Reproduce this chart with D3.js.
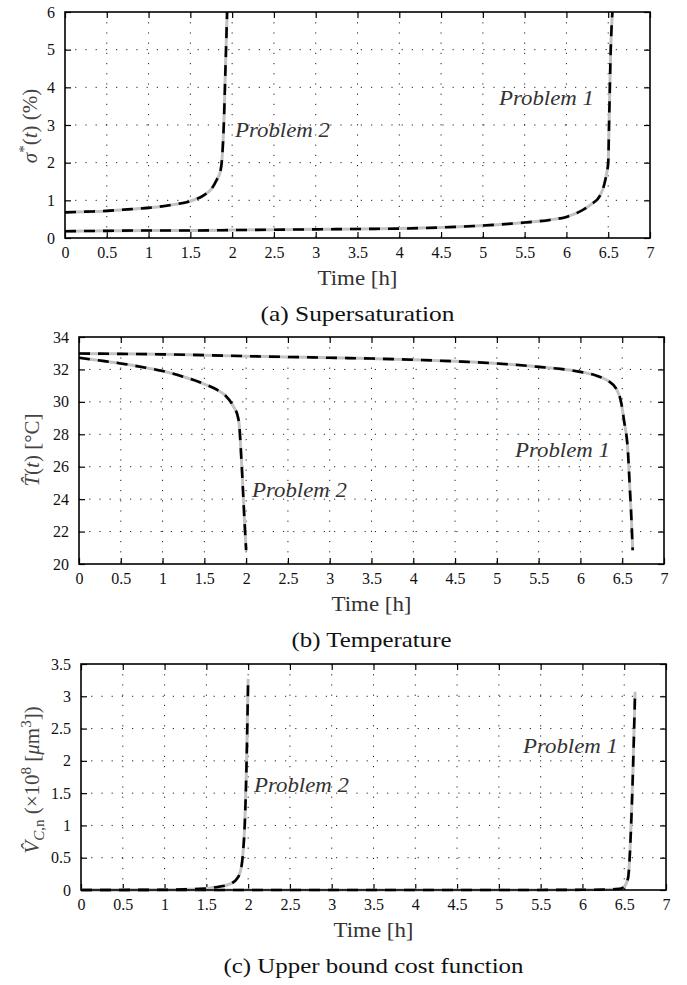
<!DOCTYPE html>
<html>
<head>
<meta charset="utf-8">
<script src="https://cdnjs.cloudflare.com/ajax/libs/d3/7.8.5/d3.min.js"></script>
<style>
  body { margin: 0; background: #fff; }
</style>
</head>
<body>
<div id="chart"></div>
<script>
// ---- data ----
const xTicks = [0, 0.5, 1, 1.5, 2, 2.5, 3, 3.5, 4, 4.5, 5, 5.5, 6, 6.5, 7];

// (a) supersaturation
const sigP1T = [0, 0.5, 1, 1.5, 2, 2.5, 3, 3.5, 4, 4.5, 5, 5.5, 5.8, 6, 6.2, 6.3, 6.4, 6.45, 6.48, 6.5, 6.51, 6.53, 6.55];
const sigP1V = [0.18, 0.19, 0.2, 0.2, 0.21, 0.22, 0.23, 0.24, 0.25, 0.28, 0.33, 0.41, 0.48, 0.56, 0.75, 0.9, 1.12, 1.4, 1.7, 2.0, 3.0, 5.0, 6.0];
const sigP2T = [0, 0.25, 0.5, 0.75, 1, 1.25, 1.5, 1.65, 1.75, 1.815, 1.86, 1.875, 1.9, 1.92, 1.94];
const sigP2V = [0.68, 0.7, 0.72, 0.76, 0.8, 0.87, 0.98, 1.12, 1.3, 1.54, 1.78, 2.0, 3.0, 4.5, 6.0];
const sigTicks = [0, 1, 2, 3, 4, 5, 6];

// (b) temperature
const tmpP1T = [0, 0.5, 1, 1.5, 2, 2.5, 3, 3.5, 4, 4.5, 5, 5.5, 6, 6.2, 6.33, 6.43, 6.49, 6.52, 6.57, 6.59, 6.61, 6.625];
const tmpP1V = [32.98, 32.96, 32.93, 32.88, 32.82, 32.77, 32.72, 32.67, 32.6, 32.5, 32.37, 32.16, 31.85, 31.6, 31.3, 30.8, 29.9, 28.9, 26.8, 24.8, 22.8, 20.85];
const tmpP2T = [0, 0.25, 0.5, 0.75, 1, 1.25, 1.5, 1.65, 1.75, 1.85, 1.9, 1.92, 1.935, 1.95, 1.98, 2.0];
const tmpP2V = [32.72, 32.55, 32.37, 32.15, 31.9, 31.55, 31.1, 30.75, 30.4, 29.7, 29.1, 28.45, 27.2, 25.8, 22.7, 20.85];
const tmpTicks = [20, 22, 24, 26, 28, 30, 32, 34];

// (c) upper bound cost function
const vcP1T = [0, 1, 2, 3, 4, 5, 5.5, 6, 6.3, 6.45, 6.5, 6.53, 6.55, 6.57, 6.6, 6.63];
const vcP1V = [0, 0, 0, 0, 0, 0, 0.001, 0.003, 0.008, 0.02, 0.05, 0.12, 0.22, 0.62, 1.65, 3.07];
const vcP2T = [0, 0.5, 1, 1.25, 1.5, 1.65, 1.78, 1.88, 1.92, 1.94, 1.96, 1.98, 2.0];
const vcP2V = [0, 0.001, 0.004, 0.01, 0.025, 0.05, 0.09, 0.2, 0.36, 0.6, 1.03, 1.9, 3.27];
const vcTicks = [0, 0.5, 1, 1.5, 2, 2.5, 3, 3.5];

const SERIF = "'Liberation Serif', 'DejaVu Serif', serif";

const svg = d3.select('#chart').append('svg')
  .attr('width', 687)
  .attr('height', 985)
  .attr('font-family', SERIF);

function zip(ts, vs) { return ts.map((t, i) => ({ t: t, v: vs[i] })); }

function drawPanel(p) {
  const x = d3.scaleLinear().domain([0, 7]).range([p.left, p.right]);
  const y = d3.scaleLinear().domain(p.yDomain).range([p.bottom, p.top]);
  const g = svg.append('g');

  // dotted grid
  g.selectAll('.gx').data(xTicks.slice(1, -1)).enter().append('line')
    .attr('x1', d => x(d)).attr('x2', d => x(d))
    .attr('y1', p.top).attr('y2', p.bottom)
    .attr('stroke', '#222').attr('stroke-width', 1).attr('stroke-dasharray', '1.2,9');
  g.selectAll('.gy').data(p.yTicks.slice(1, -1)).enter().append('line')
    .attr('x1', p.left).attr('x2', p.right)
    .attr('y1', d => y(d)).attr('y2', d => y(d))
    .attr('stroke', '#222').attr('stroke-width', 1).attr('stroke-dasharray', '1.2,9');

  // axes with inward ticks
  const fmt = d => String(d);
  g.append('g').attr('transform', `translate(0,${p.bottom})`)
    .call(d3.axisBottom(x).tickValues(xTicks).tickSizeInner(-6).tickSizeOuter(0).tickPadding(9).tickFormat(fmt));
  g.append('g').attr('transform', `translate(0,${p.top})`)
    .call(d3.axisTop(x).tickValues(xTicks).tickSizeInner(-6).tickSizeOuter(0).tickFormat(''));
  g.append('g').attr('transform', `translate(${p.left},0)`)
    .call(d3.axisLeft(y).tickValues(p.yTicks).tickSizeInner(-6).tickSizeOuter(0).tickPadding(10).tickFormat(fmt));
  g.append('g').attr('transform', `translate(${p.right},0)`)
    .call(d3.axisRight(y).tickValues(p.yTicks).tickSizeInner(-6).tickSizeOuter(0).tickFormat(''));
  g.selectAll('.domain').remove();
  g.selectAll('.tick line').attr('stroke', '#000').attr('stroke-width', 1.2);
  g.selectAll('.tick text').attr('font-size', 16).attr('fill', '#111');

  const line = d3.line().x(d => x(d.t)).y(d => y(d.v)).curve(d3.curveMonotoneX);
  p.series.forEach(s => {
    g.append('path').datum(s).attr('d', line)
      .attr('fill', 'none').attr('stroke', '#c3c3c3').attr('stroke-width', 3);
    g.append('path').datum(s).attr('d', line)
      .attr('fill', 'none').attr('stroke', '#000').attr('stroke-width', 2.6)
      .attr('stroke-dasharray', '11,8');
  });

  // frame
  g.append('rect').attr('x', p.left).attr('y', p.top)
    .attr('width', p.right - p.left).attr('height', p.bottom - p.top)
    .attr('fill', 'none').attr('stroke', '#000').attr('stroke-width', 1.6);

  // annotations
  p.notes.forEach(n => {
    g.append('text').attr('x', n.x).attr('y', n.y)
      .attr('font-size', 21).attr('font-style', 'italic').attr('fill', '#333')
      .attr('textLength', 95).attr('lengthAdjust', 'spacingAndGlyphs')
      .text(n.text);
  });

  // x label and caption
  const cx = (p.left + p.right) / 2;
  g.append('text').attr('x', cx).attr('y', p.bottom + 47).attr('text-anchor', 'middle')
    .attr('font-size', 21).attr('fill', '#333')
    .attr('textLength', 80).attr('lengthAdjust', 'spacingAndGlyphs').text('Time [h]');
  g.append('text').attr('x', cx).attr('y', p.bottom + 83).attr('text-anchor', 'middle')
    .attr('font-size', 21).attr('fill', '#111')
    .attr('textLength', p.capLen).attr('lengthAdjust', 'spacingAndGlyphs')
    .text(p.caption);

  // y label
  const yl = g.append('text')
    .attr('transform', `translate(${p.ylx},${p.yly}) rotate(-90)`)
    .attr('text-anchor', 'middle').attr('font-size', 21).attr('fill', '#444');
  p.ylab(yl);
}

drawPanel({
  left: 65, right: 650, top: 12, bottom: 238, yDomain: [0, 6], yTicks: sigTicks,
  series: [zip(sigP1T, sigP1V), zip(sigP2T, sigP2V)],
  notes: [{ x: 235, y: 137, text: 'Problem 2' }, { x: 499, y: 105, text: 'Problem 1' }],
  caption: '(a) Supersaturation', capLen: 194,
  ylx: 37, yly: 126,
  ylab: t => {
    t.append('tspan').attr('font-style', 'italic').text('σ');
    t.append('tspan').attr('dy', -8).attr('font-size', 15).text('*');
    t.append('tspan').attr('dy', 8).text('(');
    t.append('tspan').attr('font-style', 'italic').text('t');
    t.append('tspan').text(') (%)');
  }
});

drawPanel({
  left: 79, right: 664, top: 337, bottom: 564, yDomain: [20, 34], yTicks: tmpTicks,
  series: [zip(tmpP1T, tmpP1V), zip(tmpP2T, tmpP2V)],
  notes: [{ x: 252, y: 497, text: 'Problem 2' }, { x: 515, y: 457, text: 'Problem 1' }],
  caption: '(b) Temperature', capLen: 160,
  ylx: 39, yly: 450,
  ylab: t => {
    t.append('tspan').attr('font-style', 'italic').text('T\u0302');
    t.append('tspan').text('(');
    t.append('tspan').attr('font-style', 'italic').text('t');
    t.append('tspan').text(') [°C]');
  }
});

drawPanel({
  left: 81, right: 666, top: 664, bottom: 890, yDomain: [0, 3.5], yTicks: vcTicks,
  series: [zip(vcP1T, vcP1V), zip(vcP2T, vcP2V)],
  notes: [{ x: 254, y: 792, text: 'Problem 2' }, { x: 523, y: 753, text: 'Problem 1' }],
  caption: '(c) Upper bound cost function', capLen: 300,
  ylx: 39, yly: 780,
  ylab: t => {
    t.append('tspan').attr('font-style', 'italic').text('V\u0302');
    t.append('tspan').attr('dy', 5).attr('font-size', 15).attr('font-style', 'italic').text('C');
    t.append('tspan').attr('font-size', 15).text(',n');
    t.append('tspan').attr('dy', -5).text(' (×10');
    t.append('tspan').attr('dy', -8).attr('font-size', 15).text('8');
    t.append('tspan').attr('dy', 8).text(' [');
    t.append('tspan').attr('font-style', 'italic').text('μ');
    t.append('tspan').text('m');
    t.append('tspan').attr('dy', -8).attr('font-size', 15).text('3');
    t.append('tspan').attr('dy', 8).text('])');
  }
});

// the axis groups set their own sans-serif family; drop it so the serif one inherits
svg.selectAll('g[font-family]').attr('font-family', null);
</script>
</body>
</html>
